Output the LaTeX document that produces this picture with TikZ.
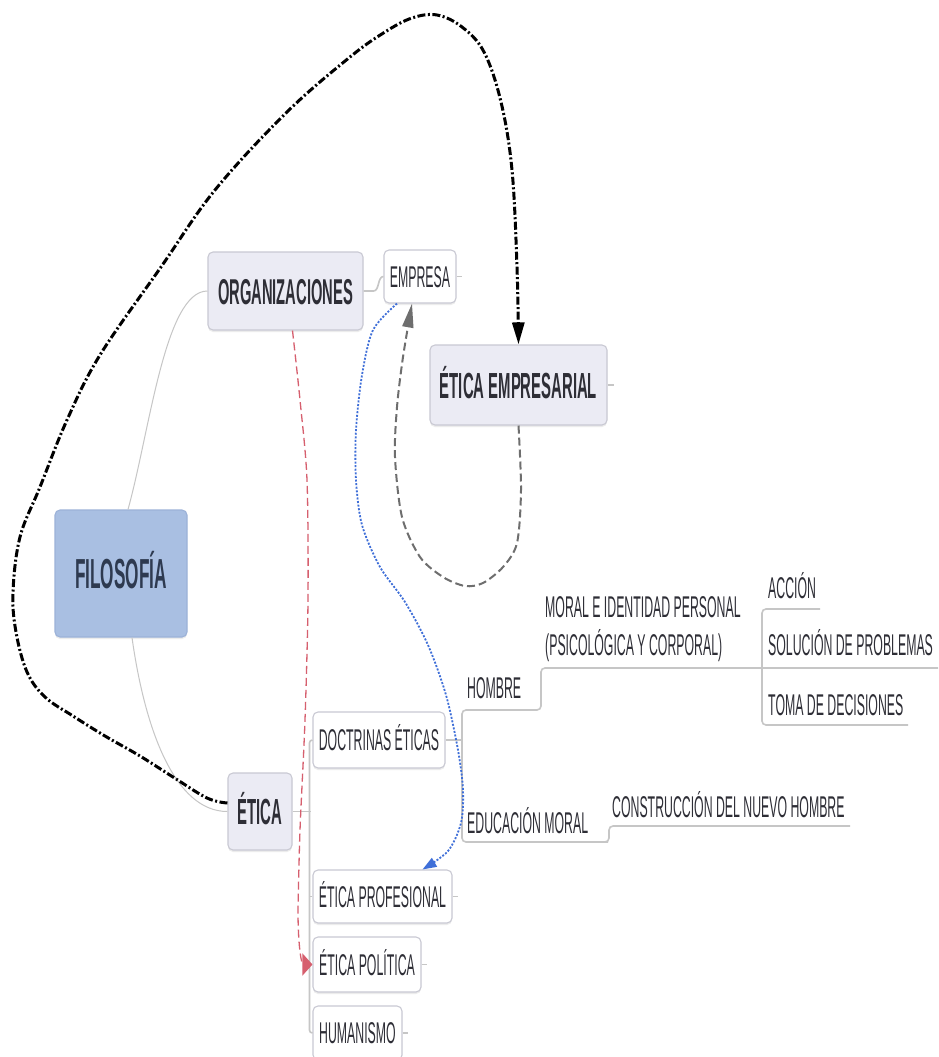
\documentclass[tikz,border=0pt]{standalone}
\usepackage{fontspec}
\setmainfont{Liberation Sans}[FakeStretch=0.41]
\usetikzlibrary{arrows.meta,shadows}
\definecolor{boxfill}{HTML}{EBEBF4}
\definecolor{boxdraw}{HTML}{C9C9D3}
\definecolor{filfill}{HTML}{A9BFE2}
\definecolor{fildraw}{HTML}{9CB2D8}
\definecolor{filtxt}{HTML}{2E3A50}
\definecolor{txt}{HTML}{2E2E36}
\definecolor{treec}{HTML}{C6C6C6}
\definecolor{redc}{HTML}{D65F6E}
\definecolor{bluec}{HTML}{3F6FD8}
\definecolor{grayc}{HTML}{6E6E6E}
\begin{document}
\begin{tikzpicture}[x=1pt,y=-1pt,
  box/.style={draw=boxdraw, fill=boxfill, line width=1.1pt, rounded corners=5pt,
    inner sep=0pt, text=txt,
    drop shadow={shadow xshift=0pt, shadow yshift=-2pt, fill=black!14}},
  regtxt/.style={font=\fontsize{30}{38}\selectfont, text height=21.5pt, text depth=0pt},
  bigtxt/.style={font=\bfseries\fontsize{36.3}{42}\selectfont, text height=26pt, text depth=0pt},
  lbl/.style={inner sep=0pt, text=txt, font=\fontsize{30}{38}\selectfont},
  treeline/.style={draw=treec, line width=1.6pt},
  thintree/.style={draw=treec, line width=1pt},
  blackrel/.style={draw=black, line width=3pt, dash pattern=on 8pt off 2.5pt on 2pt off 2.5pt,
    -{Triangle[length=22pt,width=12pt]}},
  redrel/.style={draw=redc, line width=1.3pt, dash pattern=on 8pt off 4pt,
    -{Triangle[length=10pt,width=22pt]}},
  bluerel/.style={draw=bluec, line width=1.8pt, dash pattern=on 2pt off 1.6pt,
    -{Triangle[length=14pt,width=10pt]}},
  grayrel/.style={draw=grayc, line width=2pt, dash pattern=on 8pt off 4pt,
    -{Triangle[length=24pt,width=11pt]}},
]
\fill[white] (0,0) rectangle (938,1057);
\useasboundingbox (0,0) rectangle (938,1057);

% boxed topics
\node[box, fill=filfill, draw=fildraw, minimum width=132pt, minimum height=127pt,
  font=\bfseries\fontsize{42}{48}\selectfont, text=filtxt, text height=30pt, text depth=0pt]
  (fil) at (121,573.5) {FILOSOFÍA};
\node[box, bigtxt, font=\bfseries\fontsize{35.9}{42}\selectfont, minimum width=155pt, minimum height=78pt] (org) at (285.5,291) {ORGANIZACIONES};
\node[box, fill=white, regtxt, minimum width=72pt, minimum height=53pt] (emp) at (420,276.5) {EMPRESA};
\node[box, bigtxt, minimum width=177pt, minimum height=80pt] (ee) at (518.5,385) {ÉTICA EMPRESARIAL};
\node[box, bigtxt, minimum width=64pt, minimum height=77pt] (eti) at (260,811.5) {ÉTICA};
\node[box, fill=white, regtxt, minimum width=132pt, minimum height=56pt] (doc) at (379,740) {DOCTRINAS ÉTICAS};
\node[box, fill=white, regtxt, minimum width=139pt, minimum height=53pt] (pro) at (382.5,896.5) {ÉTICA PROFESIONAL};
\node[box, fill=white, regtxt, minimum width=108pt, minimum height=55pt] (pol) at (367,964.5) {ÉTICA POLÍTICA};
\node[box, fill=white, regtxt, minimum width=89pt, minimum height=54pt] (hum) at (357.5,1033) {HUMANISMO};

% underlined topics
\node[lbl, anchor=base west] (hom) at (467,698) {HOMBRE};
\node[lbl, anchor=south west, align=left] (mor) at (545,662) {MORAL E IDENTIDAD PERSONAL\\(PSICOLÓGICA Y CORPORAL)};
\node[lbl, anchor=base west] (acc) at (768,598) {ACCIÓN};
\node[lbl, anchor=base west] (sol) at (768,655) {SOLUCIÓN DE PROBLEMAS};
\node[lbl, anchor=base west] (tom) at (768,715) {TOMA DE DECISIONES};
\node[lbl, anchor=base west] (edu) at (467,833) {EDUCACIÓN MORAL};
\node[lbl, anchor=base west] (con) at (612,817) {CONSTRUCCIÓN DEL NUEVO HOMBRE};

% underline coordinates
\coordinate (hu1) at (462,710);
\coordinate (hu2) at (536,710);
\coordinate (mu1) at (541,668);
\coordinate (su2) at (938,668);
\coordinate (ab1) at (762,609);
\coordinate (au2) at (820,609);
\coordinate (ab2) at (762,725);
\coordinate (tu2) at (908,725);
\coordinate (eu1) at (462,842);
\coordinate (eu2) at (604,842);
\coordinate (cu1) at (609,826);
\coordinate (cu2) at (850,826);

% tree connectors
\draw[thintree] ([xshift=7pt]fil.north) .. controls (150,430) and (165,291) .. (org.west);
\draw[thintree] ([xshift=11pt]fil.south) .. controls (145,730) and (175,811.5) .. (eti.west);
\draw[treeline] (org.east) -- ++(10,0) .. controls +(6,0) and +(-6,0) .. (emp.west);
\draw[treeline] (emp.east) -- ++(5,0);
\draw[treeline] (ee.east) -- ++(6,0);
\draw[treeline] (eti.east) -- ++(18,0);
\draw[treeline, rounded corners=3pt] (doc.west) -- ++(-3,0) |- (hum.west);
\draw[treeline] (pro.west) -- ++(-3,0);
\draw[treeline] (pol.west) -- ++(-3,0);
\draw[treeline] (pro.east) -- ++(5,0);
\draw[treeline] (pol.east) -- ++(5,0);
\draw[treeline] (hum.east) -- ++(5,0);
\draw[treeline] (doc.east) -- (doc.east -| hu1);
\draw[treeline, rounded corners=4pt] (hu2) -- (hu1) -- (eu1) -- (eu2) -| (cu1) -- (cu2);
\draw[treeline, rounded corners=4pt] (hu2) -| (mu1) -- (su2);
\draw[treeline, rounded corners=4pt] (au2) -- (ab1) -- (ab2) -- (tu2);

% relationship connectors
\coordinate (bks) at ([yshift=8.5pt]eti.west);
\draw[blackrel] plot[smooth, tension=0.6] coordinates {(bks) (207,798) (173,777) (140,756) (105,736) (73,716) (45,697) (27,672) (16,632) (13,592) (20,537) (40,487) (67,420) (100,355) (161,267) (215,190) (287,112) (350,57) (385,32) (412,18) (437,15) (462,27) (484,52) (501,102) (512,170) (517,267) (ee.north)};

\coordinate (rds) at ([xshift=7pt]org.south);
\draw[redrel] plot[smooth] coordinates {(rds) (300,400) (307,480) (308,600) (305,720) (300,830) (298,910)} .. controls (298,950) and (302,964.5) .. (pol.west);

\coordinate (bls) at ([xshift=-23pt]emp.south);
\coordinate (ble) at ([xshift=40pt]pro.north);
\draw[bluerel] plot[smooth] coordinates {(bls) (373,330) (362,375) (356,430) (356,480) (362,525) (380,567) (405,602) (428,645) (446,695) (458,750) (463,790) (461,823) (448,851) (ble)};

\coordinate (gre) at ([xshift=-8pt]emp.south);
\draw[grayrel] plot[smooth] coordinates {(ee.south) (521,490) (517,543) (503,567) (483,583) (465,586) (443,577) (420,557) (402,517) (395,457) (397,407) (403,357) (gre)};
\end{tikzpicture}
\end{document}
